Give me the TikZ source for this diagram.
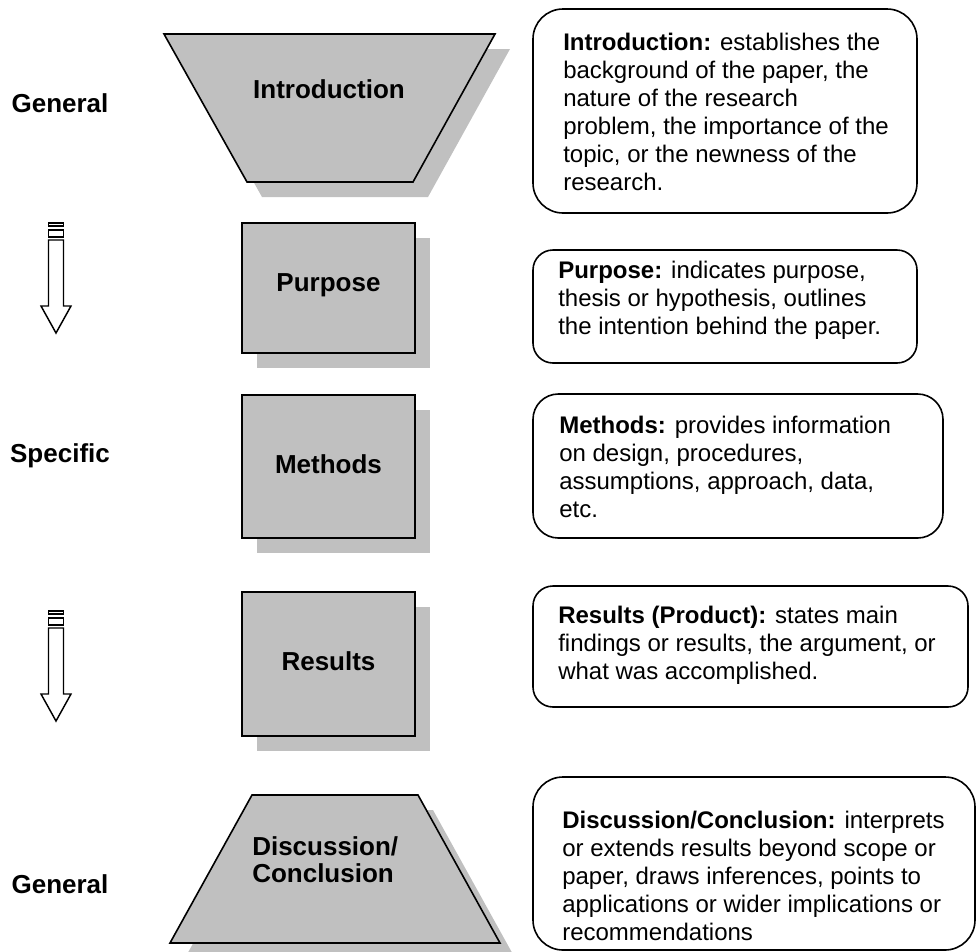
\documentclass[tikz,border=0pt]{standalone}
\usepackage{fontspec}
\setmainfont{Liberation Sans}
\definecolor{panelgray}{HTML}{C0C0C0}
\definecolor{shadowgray}{HTML}{C0C0C0}
\tikzset{
  shapefill/.style={draw=black, line width=1.2pt, line join=miter, fill=panelgray},
  shadowfill/.style={fill=shadowgray},
  infobox/.style={draw=black, line width=1.2pt, fill=white},
  shapelabel/.style={font=\fontsize{19.5}{20.3}\selectfont\bfseries, inner sep=0},
  sidelabel/.style={font=\fontsize{19.5}{20.3}\selectfont\bfseries, inner sep=0, anchor=base},
  infotext/.style={font=\fontsize{18}{21}\selectfont, align=left, inner sep=0, anchor=north west},
  flowline/.style={draw=black, line width=1.1pt, fill=white},
  stack arrow/.pic={
    \filldraw[flowline] (-7.5,0) rectangle (7.5,3);
    \filldraw[flowline] (-7.5,7) rectangle (7.5,14);
    \filldraw[flowline] (-7.5,17) -- (-7.5,83) -- (-15,83) -- (0,110)
      -- (15,83) -- (7.5,83) -- (7.5,17) -- cycle;
  },
}
\begin{document}
\begin{tikzpicture}[x=0.75pt,y=-0.75pt]
\useasboundingbox (0,0) rectangle (976,951);

% side labels and downward arrows
\node[sidelabel] (general1) at (60,112) {General};
\node[sidelabel] (specific) at (60,462) {Specific};
\node[sidelabel] (general2) at (60,893) {General};
\pic at (56,223) {stack arrow};
\pic at (56,611) {stack arrow};

% Introduction funnel
\fill[shadowfill] (179,49) -- (510,49) -- (428,197) -- (262,197) -- cycle;
\filldraw[shapefill] (164,34) -- (495,34) -- (413,182) -- (247,182) -- cycle;
\node[shapelabel, anchor=base] (intro) at (329,98) {Introduction};

% Purpose
\fill[shadowfill] (257,238) rectangle (430,368);
\filldraw[shapefill] (242,223) rectangle (415,353);
\node[shapelabel, anchor=base] (purpose) at (328.5,291.5) {Purpose};

% Methods
\fill[shadowfill] (257,410) rectangle (430,553);
\filldraw[shapefill] (242,395) rectangle (415,538);
\node[shapelabel, anchor=base] (methods) at (328.5,473) {Methods};

% Results
\fill[shadowfill] (257,607) rectangle (430,751);
\filldraw[shapefill] (242,592) rectangle (415,736);
\node[shapelabel, anchor=base] (results) at (328.5,670) {Results};

% Discussion / Conclusion base
\fill[shadowfill] (267,810) -- (433,810) -- (515,958) -- (185,958) -- cycle;
\filldraw[shapefill] (252,795) -- (418,795) -- (500,943) -- (170,943) -- cycle;
\node[shapelabel, align=left, anchor=north west] (discussion) at (252,836) {Discussion/\\Conclusion};

% description panels
\draw[infobox, rounded corners=22.5pt] (533,9) rectangle (917,213);
\node[infotext] (introtext) at (563,32.5) {\textbf{Introduction:} establishes the\\background of the paper, the\\nature of the research\\problem, the importance of the\\topic, or the newness of the\\research.};

\draw[infobox, rounded corners=15pt] (533,250) rectangle (917,363);
\node[infotext] (purposetext) at (558,260.5) {\textbf{Purpose:} indicates purpose,\\thesis or hypothesis, outlines\\the intention behind the paper.};

\draw[infobox, rounded corners=19pt] (533,394) rectangle (943,538);
\node[infotext] (methodstext) at (559,415.5) {\textbf{Methods:} provides information\\on design, procedures,\\assumptions, approach, data,\\etc.};

\draw[infobox, rounded corners=15pt] (533,586) rectangle (968,707);
\node[infotext] (resultstext) at (558,605.5) {\textbf{Results (Product):} states main\\findings or results, the argument, or\\what was accomplished.};

\draw[infobox, rounded corners=22.5pt] (533,777) rectangle (975,950);
\node[infotext] (discussiontext) at (562,810.5) {\textbf{Discussion/Conclusion:} interprets\\or extends results beyond scope or\\paper, draws inferences, points to\\applications or wider implications or\\recommendations};
\end{tikzpicture}
\end{document}
